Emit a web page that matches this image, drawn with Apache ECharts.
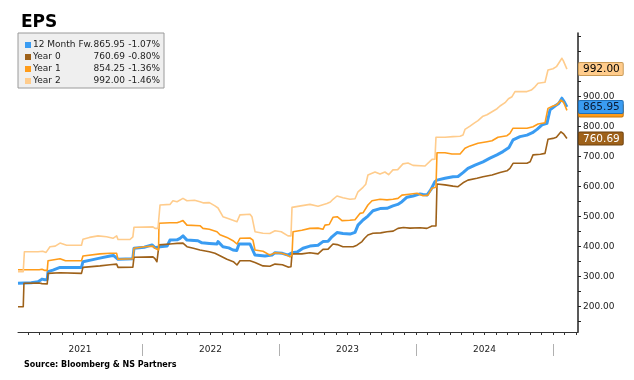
<!DOCTYPE html>
<html><head><meta charset="utf-8">
<script src="https://cdn.jsdelivr.net/npm/echarts@6/dist/echarts.min.js"></script>
<style>html,body{margin:0;padding:0;background:#fff}#c{width:634px;height:380px}</style>
</head><body><div id="c"></div>
<script>
// ---- data (x = months since 1 Jan 2021) ----
const seriesNames = ['12 Month Fw.', 'Year 0', 'Year 1', 'Year 2'];
const lastValues = [865.95, 760.69, 854.25, 992.00];
const changes = ['-1.07%', '-0.80%', '-1.36%', '-1.46%'];
const yearLabels = ['2021', '2022', '2023', '2024'];
const yTickLabels = [200, 300, 400, 500, 600, 700, 800, 900];

const fw12 = [[1.14,278],[2.3,280],[2.9,283],[3.24,292],[3.5,290],[3.7,291],[3.77,317],[4.2,322],[4.82,331],[6.7,331],[6.83,350],[7.6,356],[8.3,362],[9.2,369],[9.5,371],[9.9,358],[11.2,360],[11.3,395],[12.2,398],[12.88,406],[13.14,397],[13.58,400],[14.2,402],[14.45,422],[15.07,423],[15.33,428],[15.59,436],[15.94,422],[16.9,420],[17.25,413],[17.9,411],[18.57,409],[18.66,417],[19.09,400],[19.6,396],[19.97,389],[20.3,387],[20.5,409],[21.46,409],[21.9,372],[22.77,369],[23.39,372],[23.65,380],[24.3,378],[24.79,372],[24.96,367],[25.14,380],[25.6,382],[26.1,395],[26.71,402],[27.42,405],[27.85,417],[28.3,418],[28.64,433],[29.08,447],[29.6,444],[30.22,442],[30.66,448],[30.92,472],[31.36,489],[31.79,502],[32.23,520],[32.85,527],[33.46,528],[33.98,536],[34.4,541],[34.77,550],[35.21,565],[35.74,569],[36.35,576],[36.61,574],[36.96,572],[37.3,590],[37.66,617],[37.84,622],[38.54,628],[39.24,633],[39.68,634],[40.12,647],[40.55,661],[41.17,672],[41.87,683],[42.48,695],[43.09,706],[43.62,717],[44.15,731],[44.5,756],[45.11,767],[45.72,772],[46.2,780],[46.6,791],[47.04,806],[47.47,811],[47.74,856],[48.17,869],[48.5,877],[48.78,895],[49.0,882],[49.22,865.95]];

const year0 = [[1.14,200],[1.6,200],[1.66,278],[3.0,279],[3.24,277],[3.7,276],[3.77,311],[4.82,313],[6.7,311],[6.83,331],[8.32,336],[9.2,340],[9.78,342],[9.9,331],[11.2,332],[11.3,365],[12.96,366],[13.14,360],[13.31,350],[13.45,350],[13.49,406],[14.71,410],[15.07,411],[15.59,412],[15.94,400],[16.5,395],[17.08,389],[17.9,383],[18.39,378],[18.83,370],[19.44,358],[20.0,350],[20.32,339],[20.58,353],[21.46,353],[21.9,347],[22.6,336],[23.2,335],[23.65,342],[24.3,340],[24.79,332],[25.05,333],[25.14,376],[26.0,376],[26.71,380],[27.42,376],[27.85,391],[28.3,392],[28.73,409],[29.1,407],[29.6,400],[30.5,400],[30.83,405],[31.27,417],[31.5,428],[31.79,439],[32.23,445],[32.9,446],[33.46,450],[34.0,452],[34.42,461],[34.9,464],[35.47,462],[36.35,463],[36.96,461],[37.05,458],[37.4,469],[37.75,469],[37.84,609],[38.54,606],[39.24,602],[39.68,600],[40.12,613],[40.55,622],[41.34,628],[41.87,633],[42.66,639],[43.36,647],[43.97,653],[44.23,661],[44.5,678],[45.72,678],[46.0,683],[46.25,706],[46.9,708],[47.3,711],[47.47,712],[47.56,758],[48.0,761],[48.3,765],[48.7,783],[48.95,775],[49.22,760.69]];

const year1 = [[1.14,323],[3.0,323],[3.24,325],[3.5,321],[3.7,321],[3.77,353],[4.82,360],[5.3,353],[6.7,353],[6.83,369],[8.32,376],[9.2,378],[9.78,378],[9.9,358],[11.2,360],[11.3,395],[12.2,400],[12.96,402],[13.14,395],[13.31,389],[13.45,389],[13.49,478],[14.45,480],[15.07,480],[15.33,483],[15.59,487],[15.94,472],[17.08,470],[17.34,461],[17.9,458],[18.57,450],[18.83,440],[19.44,431],[19.97,420],[20.32,409],[20.58,428],[21.46,429],[21.72,422],[21.9,389],[22.6,385],[23.21,372],[23.65,380],[24.2,378],[24.7,372],[24.96,366],[25.14,372],[25.23,450],[26.0,455],[26.71,461],[27.42,462],[27.85,458],[28.03,472],[28.4,474],[28.73,498],[29.1,500],[29.52,487],[30.2,488],[30.66,490],[31.09,511],[31.36,513],[31.79,539],[32.15,553],[32.85,558],[33.46,556],[33.98,558],[34.42,561],[34.77,572],[35.4,575],[36.09,578],[36.61,570],[37.05,572],[37.4,595],[37.75,598],[37.84,713],[38.54,713],[39.15,709],[39.86,709],[40.29,728],[40.73,736],[41.43,745],[42.22,750],[42.66,753],[43.18,765],[43.97,770],[44.23,778],[44.5,795],[45.72,795],[46.25,800],[46.69,809],[47.3,813],[47.47,815],[47.56,861],[48.0,869],[48.3,872],[48.7,889],[48.95,880],[49.22,854.25]];

const year2 = [[1.14,317],[1.6,317],[1.7,383],[2.9,383],[3.3,385],[3.6,381],[3.77,381],[3.94,400],[4.4,402],[4.82,412],[5.4,405],[6.7,405],[6.83,425],[7.4,431],[8.15,436],[8.9,433],[9.46,428],[9.78,436],[9.9,424],[10.95,424],[11.2,433],[11.3,465],[12.96,466],[13.14,461],[13.4,461],[13.58,539],[14.45,541],[14.71,553],[15.07,550],[15.59,561],[15.94,553],[16.6,555],[17.08,550],[17.4,546],[17.9,547],[18.39,536],[18.66,529],[19.09,500],[19.6,493],[20.32,483],[20.58,506],[21.46,508],[21.63,500],[21.9,450],[22.6,445],[23.2,444],[23.65,453],[24.2,450],[24.79,436],[25.05,436],[25.14,531],[25.9,536],[26.71,541],[27.42,535],[28.2,544],[28.5,549],[28.73,558],[29.08,569],[29.6,563],[30.22,558],[30.66,560],[30.92,583],[31.36,598],[31.6,608],[31.79,639],[32.41,649],[32.85,642],[33.28,649],[33.6,640],[33.98,656],[34.4,657],[34.86,676],[35.3,679],[35.74,671],[36.79,669],[36.96,669],[37.4,691],[37.66,692],[37.75,765],[38.54,765],[39.24,767],[39.86,768],[40.12,772],[40.29,791],[40.73,802],[41.1,812],[41.43,820],[41.87,835],[42.22,840],[42.66,850],[43.1,860],[43.36,869],[43.8,880],[44.1,893],[44.41,900],[44.67,917],[45.72,917],[46.1,922],[46.42,933],[46.69,945],[47.3,948],[47.47,950],[47.56,989],[48.0,993],[48.3,1000],[48.78,1028],[48.9,1020],[49.22,992]];

// ---- styling / layout ----
const colors = ['#3a9cf2', '#9e6119', '#ff9c1a', '#ffcc8c'];
const widths = [3, 1.6, 1.6, 1.6];
const tagText = ['#0a1a33', '#ffffff', '#000000', '#000000'];
const tagBorder = ['#1f6fb8', '#6e420f', '#c97606', '#c99a55'];
const X_MIN = 1.14, X_MAX = 50.19, Y_MIN = 115.7, Y_MAX = 1112.3;
const FONT = 'DejaVu Sans';

const monthTicks = [];
for (let m = 2; m <= 50; m++) monthTicks.push(m);
const yearSeps = yearLabels.map((_, i) => (i + 1) * 12);
const yearCenters = yearLabels.map((_, i) => (Math.max(X_MIN, i * 12) + (i + 1) * 12) / 2);
const yMinorTicks = [];
for (let v = 150; v <= 1100; v += 50) yMinorTicks.push(v);

const allData = [fw12, year0, year1, year2];
const tagOrder = [3, 2, 0, 1];
const rich = {};
tagOrder.forEach(i => {
  rich['t' + i] = {
    backgroundColor: colors[i], borderColor: tagBorder[i], borderWidth: 1,
    color: tagText[i], fontSize: 10.5, fontFamily: FONT, padding: [1, 3, 0, 4], borderRadius: 1
  };
});

const chart = echarts.init(document.getElementById('c'), null, { renderer: 'canvas' });
chart.setOption({
  animation: false,
  backgroundColor: '#ffffff',
  title: [
    { text: 'EPS', left: 16, top: 9, textStyle: { fontSize: 17, fontWeight: 'bold', color: '#000', fontFamily: FONT } },
    { text: 'Source: Bloomberg & NS Partners', left: 19, top: 356, textStyle: { fontSize: 8, fontWeight: 'bold', color: '#000', fontFamily: FONT } }
  ],
  legend: {
    orient: 'vertical', left: 18, top: 33, padding: [6, 4, 1, 7], itemGap: 0,
    icon: 'rect', itemWidth: 6, itemHeight: 6, selectedMode: false,
    backgroundColor: '#efefef', borderColor: '#9a9a9a', borderWidth: 1,
    data: seriesNames,
    formatter: name => {
      const i = seriesNames.indexOf(name);
      return '{n|' + name + '}{v|' + lastValues[i].toFixed(2) + '}{p|' + changes[i] + '}';
    },
    textStyle: {
      fontFamily: FONT, fontSize: 9, color: '#222', lineHeight: 12, padding: [0, 0, 0, -3],
      rich: {
        n: { width: 62, fontFamily: FONT, fontSize: 9, color: '#222' },
        v: { width: 30, align: 'right', fontFamily: FONT, fontSize: 9, color: '#222' },
        p: { width: 35, align: 'right', fontFamily: FONT, fontSize: 9, color: '#222' }
      }
    }
  },
  grid: { left: 18, right: 56, top: 33, bottom: 48 },
  xAxis: [
    {
      type: 'value', min: X_MIN, max: X_MAX, position: 'bottom',
      splitLine: { show: false },
      axisLine: { show: true, lineStyle: { color: '#333', width: 1 } },
      axisTick: { show: true, customValues: monthTicks, length: 3, lineStyle: { color: '#333' } },
      axisLabel: {
        customValues: yearCenters, margin: 13, color: '#222', fontSize: 9, fontFamily: FONT,
        formatter: v => yearLabels[Math.floor(v / 12)]
      }
    },
    {
      type: 'value', min: X_MIN, max: X_MAX, position: 'bottom', offset: 12,
      splitLine: { show: false },
      axisLine: { show: false },
      axisTick: { show: true, customValues: yearSeps, length: 12, lineStyle: { color: '#b0b0b0' } },
      axisLabel: { show: false }
    }
  ],
  yAxis: [
    {
      type: 'value', position: 'right', min: Y_MIN, max: Y_MAX,
      splitLine: { show: false },
      axisLine: { show: true, lineStyle: { color: '#222', width: 1.5 } },
      axisTick: { show: true, customValues: yMinorTicks, length: 3, lineStyle: { color: '#222' } },
      axisLabel: {
        customValues: yTickLabels, margin: 5, color: '#222', fontSize: 9, fontFamily: FONT,
        formatter: v => v.toFixed(2)
      }
    },
    {
      type: 'value', position: 'right', min: Y_MIN, max: Y_MAX,
      splitLine: { show: false }, axisLine: { show: false }, axisTick: { show: false },
      axisLabel: {
        customValues: tagOrder.map(i => lastValues[i]), margin: 1,
        formatter: v => { const i = lastValues.indexOf(v); return '{t' + i + '|' + v.toFixed(2) + '}'; },
        rich: rich
      }
    }
  ],
  series: seriesNames.map((name, i) => ({
    name: name, type: 'line', data: allData[i], showSymbol: false, symbol: 'none',
    xAxisIndex: 0, yAxisIndex: 0, z: i === 0 ? 2 : 3,
    color: colors[i],
    lineStyle: { color: colors[i], width: widths[i], join: 'round' }
  }))
});
</script>
</body></html>
